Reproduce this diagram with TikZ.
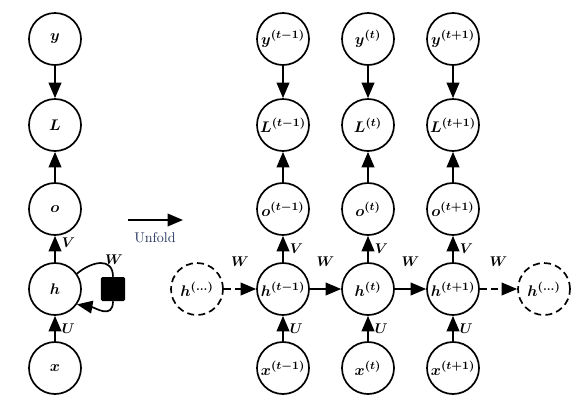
\documentclass[tikz,border=0pt]{standalone}
\usepackage{amsmath,amssymb}
\usetikzlibrary{arrows.meta,positioning}

\definecolor{foldblue}{RGB}{40,55,95}

\tikzset{
    unit/.style={circle,draw,line width=1.2pt,minimum size=1.3cm,inner sep=0pt,
        font=\fontsize{11pt}{13pt}\selectfont},
    ghost/.style={unit,dash pattern=on 5pt off 3pt},
    flow/.style={line width=1.2pt,-{Triangle[length=11pt,width=9pt]}},
    box/.style={fill,rounded corners=1pt,minimum size=0.6cm,inner sep=0pt}
}

\begin{document}
\begin{tikzpicture}[x=0.025cm,y=-0.025cm]
    \useasboundingbox (0,0) rectangle (576,403);
% folded network
    \node[unit] (y0) at (55,39) {$\boldsymbol{y}$};
    \node[unit] (L0) at (55,125) {$\boldsymbol{L}$};
    \node[unit] (o0) at (55,209) {$\boldsymbol{o}$};
    \node[unit] (h0) at (55,289) {$\boldsymbol{h}$};
    \node[unit] (x0) at (55,368) {$\boldsymbol{x}$};
    \draw[flow] (y0) -- (L0);
    \draw[flow] (o0) -- (L0);
    \draw[flow] (h0) -- node[right=1pt,pos=0.75] {$\boldsymbol{V}$} (o0);
    \draw[flow] (x0) -- node[right=1pt] {$\boldsymbol{U}$} (h0);
    \node[box] (sq) at (113,289) {};
    \draw[line width=1.2pt] (h0.35) to[out=40,in=90,looseness=1.4] (sq.north);
    \node at (114,260) {$\boldsymbol{W}$};
    \draw[flow] (sq.south) to[out=-90,in=-10,looseness=1.3] (h0.-35);
%
    \coordinate (f1) at (128,220);
    \coordinate (f2) at (183,220);
    \draw[flow] (f1) -- (f2);
    \node[foldblue] (fold) at (155,238) {Unfold};
% unfolded network
    \foreach \i/\cx/\s in {a/283/t-1,b/368/t,c/453/t+1} {
        \node[unit] (y\i) at (\cx,39) {$\boldsymbol{y^{(\s)}}$};
        \node[unit] (L\i) at (\cx,125) {$\boldsymbol{L^{(\s)}}$};
        \node[unit] (o\i) at (\cx,209) {$\boldsymbol{o^{(\s)}}$};
        \node[unit] (h\i) at (\cx,289) {$\boldsymbol{h^{(\s)}}$};
        \node[unit] (x\i) at (\cx,368) {$\boldsymbol{x^{(\s)}}$};
        \draw[flow] (y\i) -- (L\i);
        \draw[flow] (o\i) -- (L\i);
        \draw[flow] (h\i) -- node[right=1pt] {$\boldsymbol{V}$} (o\i);
        \draw[flow] (x\i) -- node[right=1pt] {$\boldsymbol{U}$} (h\i);
    }
    \node[ghost] (hl) at (197,289) {$\boldsymbol{h^{(\ldots)}}$};
    \node[ghost] (hr) at (544,289) {$\boldsymbol{h^{(\ldots)}}$};
    \draw[flow,dash pattern=on 5pt off 3pt] (hl) -- node[above=12pt] {$\boldsymbol{W}$} (ha);
    \draw[flow] (ha) -- node[above=12pt] {$\boldsymbol{W}$} (hb);
    \draw[flow] (hb) -- node[above=12pt] {$\boldsymbol{W}$} (hc);
    \draw[flow,dash pattern=on 5pt off 3pt] (hc) -- node[above=12pt] {$\boldsymbol{W}$} (hr);
\end{tikzpicture}
\end{document}
